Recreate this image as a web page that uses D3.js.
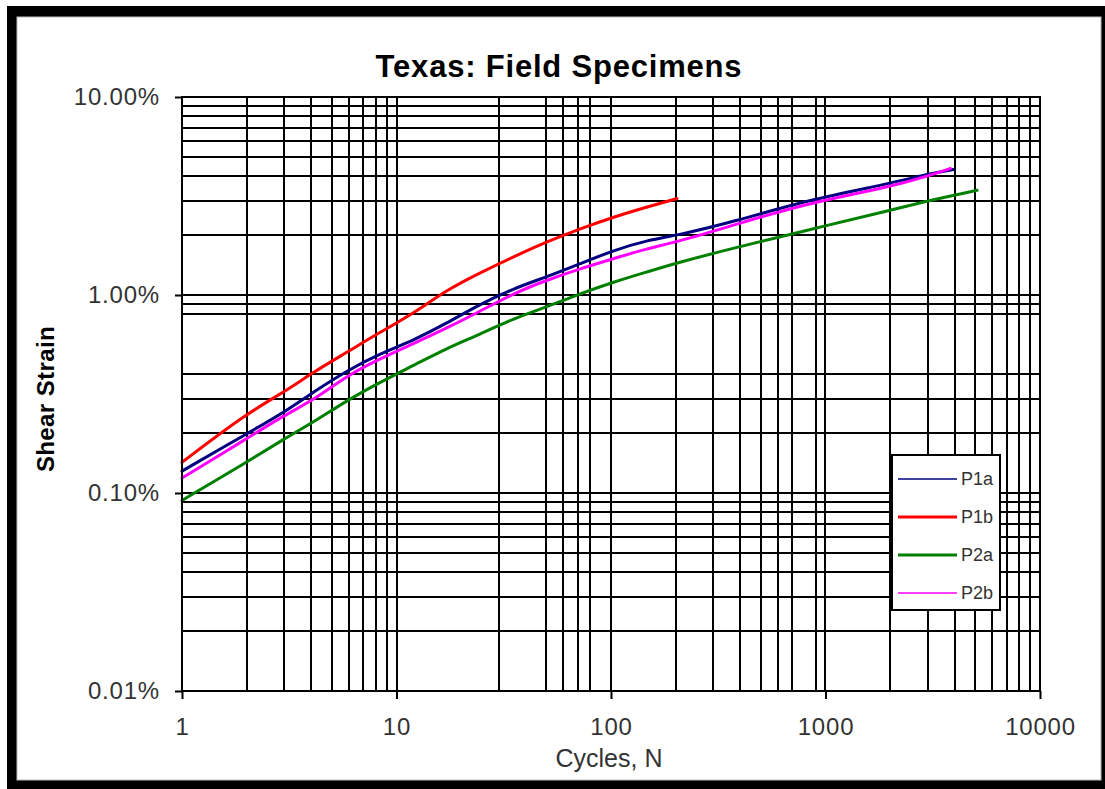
<!DOCTYPE html>
<html>
<head>
<meta charset="utf-8">
<script src="https://cdn.jsdelivr.net/npm/d3@7"></script>
<style>
  body { margin: 0; background: #fff; }
  text { font-family: "Liberation Sans", Arial, sans-serif; }
</style>
</head>
<body>
<div id="chart"></div>
<script>
// series (strain in %)
const seriesNames = ["P1a", "P1b", "P2a", "P2b"]
const seriesColors = ["#000080", "#ff0000", "#008000", "#ff00ff"]

const cyclesP1a = [1, 2, 3, 4.1, 5.9, 8.4, 12, 17, 24.5, 35, 50, 72, 103, 147, 205, 370, 820, 2000, 3080, 3950]
const strainP1a = [0.129, 0.199, 0.256, 0.324, 0.416, 0.506, 0.590, 0.717, 0.897, 1.077, 1.233, 1.441, 1.682, 1.890, 2.003, 2.338, 3.01, 3.656, 4.106, 4.302]

const cyclesP1b = [1, 2, 3, 4.1, 5.9, 8.4, 12, 17, 24.5, 35, 50, 72, 103, 147, 203]
const strainP1b = [0.143, 0.252, 0.324, 0.408, 0.515, 0.650, 0.805, 1.056, 1.295, 1.556, 1.853, 2.165, 2.479, 2.784, 3.07]

const cyclesP2a = [1, 2, 3, 4.1, 5.9, 8.4, 12, 17, 24.5, 35, 50, 72, 103, 147, 205, 370, 820, 2000, 3080, 5090]
const strainP2a = [0.0917, 0.143, 0.188, 0.228, 0.294, 0.363, 0.441, 0.536, 0.633, 0.760, 0.870, 1.017, 1.163, 1.307, 1.458, 1.722, 2.123, 2.679, 3.009, 3.381]

const cyclesP2b = [1, 2, 3, 4.1, 5.9, 8.4, 12, 17, 24.5, 35, 50, 72, 103, 147, 205, 370, 820, 2000, 3080, 3820]
const strainP2b = [0.119, 0.188, 0.247, 0.294, 0.393, 0.477, 0.568, 0.677, 0.827, 1.017, 1.187, 1.360, 1.527, 1.716, 1.857, 2.250, 2.906, 3.514, 4.025, 4.352]

// axes / gridlines as they appear in the picture (some minor lines are missing there)
const xMajor = [1, 10, 100, 1000, 10000]
const xMajorLabels = ["1", "10", "100", "1000", "10000"]
const xMinor = [2, 3, 4, 5, 6, 7, 8, 9, 30, 50, 60, 70, 80, 200, 300, 400, 500, 600, 700, 900,
                2000, 3000, 4000, 5000, 6000, 7000, 8000, 9000]
const yMajor = [0.01, 0.1, 1, 10]
const yMajorLabels = ["0.01%", "0.10%", "1.00%", "10.00%"]
const yMinor = [0.02, 0.03, 0.04, 0.05, 0.06, 0.07, 0.08, 0.09, 0.2, 0.3, 0.4, 0.8, 0.9,
                2, 3, 4, 5, 6, 7, 8, 9]

const W = 1105, H = 789
const plot = {left: 182, right: 1040, top: 97, bottom: 691}

const svg = d3.select("#chart").append("svg")
    .attr("width", W)
    .attr("height", H)

// outer frame
svg.append("rect").attr("x", 7).attr("y", 6).attr("width", W - 7).attr("height", H - 6).attr("fill", "#000")
svg.append("rect").attr("x", 17).attr("y", 17).attr("width", 1084).attr("height", 763)
    .attr("fill", "#fff").attr("stroke", "#bbb").attr("stroke-width", 1)

const x = d3.scaleLog().domain([1, 10000]).range([plot.left, plot.right])
const y = d3.scaleLog().domain([0.01, 10]).range([plot.bottom, plot.top])

// grid
const grid = svg.append("g").attr("stroke", "#000").attr("stroke-width", 2)
grid.selectAll(".vx").data(xMinor.concat(xMajor)).enter().append("line")
    .attr("x1", d => Math.round(x(d))).attr("x2", d => Math.round(x(d)))
    .attr("y1", plot.top).attr("y2", plot.bottom)
grid.selectAll(".hy").data(yMinor.concat(yMajor)).enter().append("line")
    .attr("y1", d => Math.round(y(d))).attr("y2", d => Math.round(y(d)))
    .attr("x1", plot.left).attr("x2", plot.right)

// axes (major ticks + labels)
const xAxis = svg.append("g")
    .attr("transform", `translate(0,${plot.bottom})`)
    .call(d3.axisBottom(x).tickValues(xMajor).tickFormat((d, i) => xMajorLabels[i]).tickSize(8).tickPadding(19))
const yAxis = svg.append("g")
    .attr("transform", `translate(${plot.left},0)`)
    .call(d3.axisLeft(y).tickValues(yMajor).tickFormat((d, i) => yMajorLabels[i]).tickSize(7).tickPadding(15))

;[xAxis, yAxis].forEach(a => {
    a.select(".domain").remove()
    a.selectAll("line").attr("stroke", "#000").attr("stroke-width", 2)
    a.selectAll("text")
        .attr("fill", "#333")
        .style("font-family", '"Liberation Sans", Arial, sans-serif')
        .style("font-size", "24px")
        .style("letter-spacing", "0.8px")
})

// series
const series = [
    {name: seriesNames[0], color: seriesColors[0], n: cyclesP1a, s: strainP1a},
    {name: seriesNames[1], color: seriesColors[1], n: cyclesP1b, s: strainP1b},
    {name: seriesNames[2], color: seriesColors[2], n: cyclesP2a, s: strainP2a},
    {name: seriesNames[3], color: seriesColors[3], n: cyclesP2b, s: strainP2b}
]

// basis curve smooths out the reading noise
const line = d3.line()
    .x(d => x(d[0]))
    .y(d => y(d[1]))
    .curve(d3.curveBasis)

svg.append("g").selectAll("path").data(series).enter().append("path")
    .attr("d", d => line(d.n.map((v, i) => [v, d.s[i]])))
    .attr("fill", "none")
    .attr("stroke", d => d.color)
    .attr("stroke-width", 3)
    .attr("stroke-linejoin", "round")
    .attr("stroke-linecap", "round")

// plot frame
svg.append("rect")
    .attr("x", plot.left).attr("y", plot.top)
    .attr("width", plot.right - plot.left).attr("height", plot.bottom - plot.top)
    .attr("fill", "none").attr("stroke", "#000").attr("stroke-width", 2)

// legend
const legend = svg.append("g").attr("transform", "translate(892,455)")
legend.append("rect")
    .attr("width", 108).attr("height", 155)
    .attr("fill", "#fff").attr("stroke", "#000").attr("stroke-width", 2)
const item = legend.selectAll(".item").data(series).enter().append("g")
    .attr("transform", (d, i) => `translate(0,${24 + i * 38})`)
item.append("line")
    .attr("x1", 6).attr("x2", 65)
    .attr("stroke", d => d.color)
    .attr("stroke-width", (d, i) => i === 1 || i === 2 ? 3 : 1.5)
item.append("text")
    .attr("x", 69).attr("dy", "0.35em")
    .attr("font-size", 18)
    .attr("fill", "#333")
    .text(d => d.name)

// titles
svg.append("text")
    .attr("x", 559).attr("y", 77)
    .attr("text-anchor", "middle")
    .attr("font-size", 31).attr("font-weight", "bold")
    .style("letter-spacing", "0.8px")
    .text("Texas: Field Specimens")

svg.append("text")
    .attr("x", 609).attr("y", 767)
    .attr("text-anchor", "middle")
    .attr("font-size", 25)
    .attr("fill", "#333")
    .text("Cycles, N")

svg.append("text")
    .attr("transform", "translate(54,399) rotate(-90)")
    .attr("text-anchor", "middle")
    .attr("font-size", 24).attr("font-weight", "bold")
    .style("letter-spacing", "0.4px")
    .text("Shear Strain")
</script>
</body>
</html>
